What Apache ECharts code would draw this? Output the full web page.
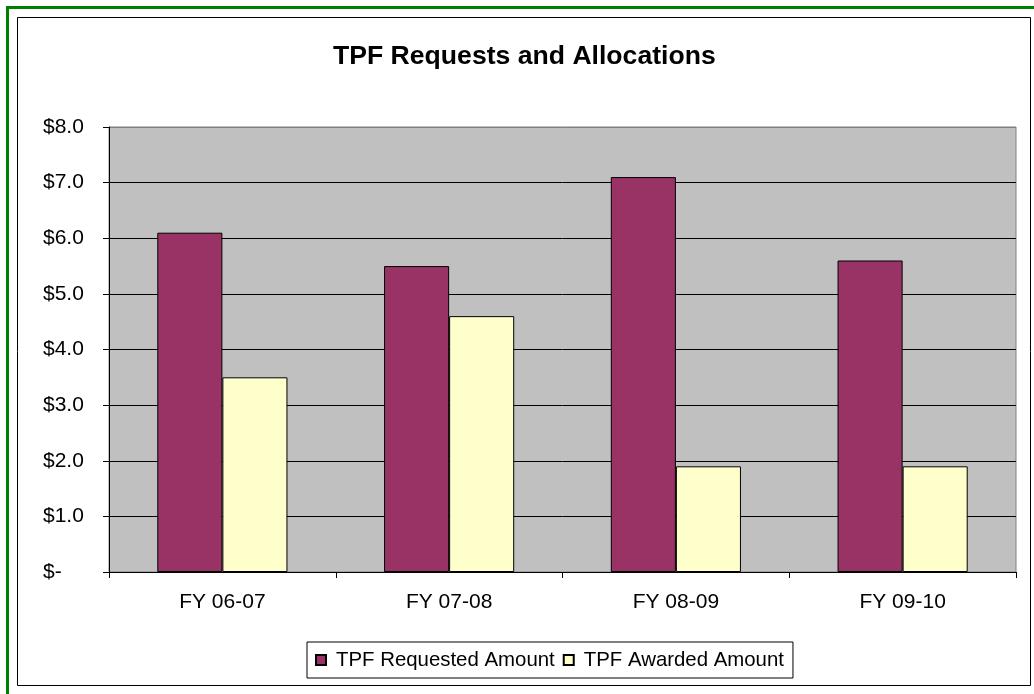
<!DOCTYPE html>
<html>
<head>
<meta charset="utf-8">
<title>TPF Requests and Allocations</title>
<script src="https://cdn.jsdelivr.net/npm/echarts@6/dist/echarts.min.js"></script>
<style>
  html, body { margin: 0; padding: 0; background: #fff; }
  #chart { width: 1034px; height: 694px; }
</style>
</head>
<body>
<div id="chart"></div>
<script>
// fiscal years
var years = ['FY 06-07', 'FY 07-08', 'FY 08-09', 'FY 09-10']
// millions of dollars
var requested = [6.1, 5.5, 7.1, 5.6]
var awarded = [3.5, 4.6, 1.9, 1.9]
var yTicks = [0, 1, 2, 3, 4, 5, 6, 7, 8]

var font = '"Liberation Sans", Arial, sans-serif'

function money(v) {
  // excel accounting style, zero shows as a dash
  if (v === 0) return '$-'
  return '$' + v.toFixed(1)
}

// gridlines black, the top one blends with the gray plot border
var gridColors = yTicks.map(function (t, i) {
  return i === yTicks.length - 1 ? '#808080' : '#000'
})

var chart = echarts.init(document.getElementById('chart'))

var option = {
  animation: false,
  backgroundColor: '#fff',
  textStyle: { fontFamily: font, color: '#000' },
  title: {
    text: 'TPF Requests and Allocations',
    left: 333,
    top: 43,
    padding: 0,
    textStyle: { fontFamily: font, fontSize: 26.6, fontWeight: 'bold', color: '#000' }
  },
  graphic: [
    // green outer frame and the thin black chart border
    { type: 'rect', shape: { x: 7.5, y: 7.5, width: 1100, height: 800 },
      style: { fill: 'none', stroke: '#008000', lineWidth: 3 }, silent: true },
    { type: 'rect', shape: { x: 17.5, y: 17.5, width: 1013, height: 668 },
      style: { fill: 'none', stroke: '#000', lineWidth: 1 }, silent: true }
  ],
  grid: {
    left: 109,
    top: 127,
    right: 18,
    bottom: 122,
    show: true,
    backgroundColor: '#C0C0C0',
    borderColor: '#808080',
    borderWidth: 1
  },
  legend: {
    data: ['TPF Requested Amount', 'TPF Awarded Amount'],
    left: 307,
    top: 642,
    padding: [8, 9, 8, 8],
    itemGap: 8,
    itemWidth: 10,
    itemHeight: 10,
    icon: 'rect',
    borderColor: '#000',
    borderWidth: 1,
    textStyle: { fontFamily: font, fontSize: 20.4, color: '#000', padding: [0, 0, 0, 5] }
  },
  xAxis: {
    type: 'category',
    data: years,
    axisLine: { lineStyle: { color: '#000', width: 1 } },
    axisTick: { show: true, length: 6, lineStyle: { color: '#000' } },
    axisLabel: { fontFamily: font, fontSize: 21, color: '#000', margin: 20 }
  },
  yAxis: {
    type: 'value',
    min: yTicks[0],
    max: yTicks[yTicks.length - 1],
    interval: 1,
    axisLine: { show: true, lineStyle: { color: '#000', width: 1 } },
    axisTick: { show: true, length: 6, lineStyle: { color: '#000' } },
    splitLine: { show: true, lineStyle: { color: gridColors, width: 1 } },
    axisLabel: {
      fontFamily: font, fontSize: 21, color: '#000',
      align: 'left', margin: 66,
      formatter: money
    }
  },
  series: [
    {
      name: 'TPF Requested Amount',
      type: 'bar',
      data: requested,
      barGap: '0%',
      barCategoryGap: '42.6%',
      itemStyle: { color: '#993366', borderColor: '#000', borderWidth: 1 }
    },
    {
      name: 'TPF Awarded Amount',
      type: 'bar',
      data: awarded,
      barGap: '0%',
      barCategoryGap: '42.6%',
      itemStyle: { color: '#FFFFCC', borderColor: '#000', borderWidth: 1 }
    }
  ]
}

chart.setOption(option)
</script>
</body>
</html>
